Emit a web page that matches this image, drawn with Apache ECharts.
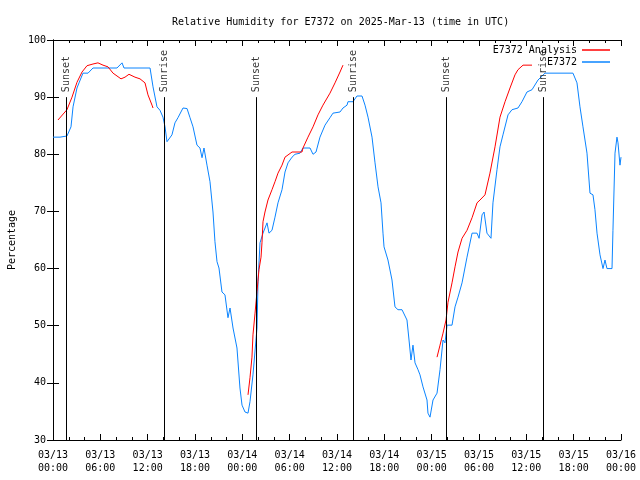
<!DOCTYPE html>
<html>
<head>
<meta charset="utf-8">
<script src="https://cdn.jsdelivr.net/npm/echarts@6.0.0/dist/echarts.min.js"></script>
<style>html,body{margin:0;padding:0;background:#fff;}#c{width:640px;height:480px;}</style>
</head>
<body>
<div id="c"></div>
<script>
// Hours since 03/13 00:00 UTC
var tickLabels = ['03/13\n00:00','03/13\n06:00','03/13\n12:00','03/13\n18:00','03/14\n00:00','03/14\n06:00','03/14\n12:00','03/14\n18:00','03/15\n00:00','03/15\n06:00','03/15\n12:00','03/15\n18:00','03/16\n00:00'];

var obsHours = [0,0.89,1.77,2.28,2.54,3.04,3.30,3.80,4.44,4.69,5.07,8.11,8.75,9.0,12.30,12.68,13.18,13.56,13.94,14.20,14.45,14.58,15.08,15.46,15.84,16.48,16.99,17.37,17.75,18.25,18.63,18.89,19.14,19.52,19.90,20.28,20.53,20.79,21.04,21.42,21.80,22.18,22.44,22.82,23.32,23.70,23.96,24.34,24.72,24.97,25.35,25.86,25.99,26.24,26.62,26.87,27.13,27.38,27.76,28.14,28.52,29.03,29.41,29.79,30.30,30.68,31.31,31.69,32.58,32.96,33.34,33.84,34.48,35.11,35.49,36.38,36.76,37.27,37.39,38.03,38.53,39.17,39.55,39.93,40.44,40.82,41.20,41.58,41.83,41.96,42.46,42.97,43.35,43.73,44.24,44.87,45.13,45.38,45.63,45.89,46.27,46.52,46.90,47.41,47.53,47.79,48.17,48.68,49.06,49.44,49.69,49.95,50.58,50.96,51.34,51.85,52.48,53.12,53.75,54.01,54.39,54.64,55.01,55.52,55.77,56.28,56.66,57.04,57.68,58.18,58.94,59.45,60.08,60.72,61.48,62.36,65.91,66.42,66.80,67.18,67.69,68.07,68.45,68.70,68.96,69.34,69.72,69.97,70.22,70.86,70.98,71.24,71.49,71.62,71.87,72.0];
var obsValues = [83.0,83.0,83.2,84.8,88.3,91.6,92.5,94.2,94.2,94.5,95.1,95.1,96.0,95.1,95.1,91.8,88.3,87.7,86.5,84.8,82.2,82.0,83.4,85.5,86.4,88.1,88.0,86.4,84.8,81.6,81.1,79.4,81.1,78.1,75.2,69.9,64.7,61.2,60.1,55.9,55.4,51.4,53.1,49.6,46.1,39.1,36.1,34.9,34.7,36.7,41.4,49.6,57.7,64.5,66.2,66.2,68.0,66.2,66.7,69.0,71.5,73.8,76.9,78.5,79.5,80.0,80.2,81.1,81.1,80.0,80.4,83.0,85.1,86.4,87.2,87.4,88.1,88.6,89.2,89.2,90.2,90.2,88.6,86.5,83.0,78.5,74.3,71.5,66.2,63.8,61.5,58.0,53.3,52.8,52.8,51.0,47.5,44.0,46.6,43.5,42.3,41.4,39.3,37.0,34.7,34.0,37.0,38.2,42.3,47.5,47.0,50.1,50.1,53.3,55.0,57.5,62.0,66.2,66.2,65.3,69.4,69.9,66.2,65.3,71.5,77.3,81.3,83.4,86.9,87.8,88.1,89.2,90.9,91.3,93.0,94.2,94.2,92.5,88.3,84.8,80.2,73.2,72.9,70.3,66.2,62.4,60.0,61.5,60.0,60.0,66.7,80.2,83.0,82.0,78.1,79.5];

var anaHours = [0.63,1.77,2.41,3.04,3.68,4.31,5.07,5.70,6.34,6.97,7.61,8.62,9.13,9.63,10.39,11.03,11.66,12.04,12.55,12.68,
  18.0,
  24.72,24.97,25.22,25.35,25.61,25.86,26.11,26.37,26.49,26.62,26.87,27.25,27.76,28.14,28.52,29.03,29.41,30.30,31.56,31.69,32.32,32.96,33.59,34.22,35.11,35.75,36.38,36.76,
  42.0,
  48.68,49.06,49.44,49.82,50.07,50.58,50.96,51.34,51.85,52.48,53.12,53.75,54.13,54.76,55.39,56.03,56.66,57.30,57.93,58.56,58.94,59.58,60.72];
var anaValues = [86.0,87.8,90.0,92.6,94.4,95.5,95.8,96.0,95.6,95.3,94.2,93.2,93.5,94.0,93.5,93.2,92.5,90.4,88.6,88.1,
  null,
  37.9,40.9,44.5,48.4,52.2,56.0,59.8,62.0,64.5,68.2,69.9,72.0,73.8,75.2,76.7,78.1,79.5,80.4,80.4,81.1,83.0,84.8,86.9,88.6,90.7,92.5,94.4,95.6,
  null,
  44.5,46.6,48.7,51.0,54.1,57.5,60.3,62.9,65.3,66.7,68.9,71.5,72.0,72.9,76.7,81.3,86.5,89.2,91.6,93.9,94.8,95.6,95.6];

var sunNames = ['Sunset','Sunrise','Sunset','Sunrise','Sunset','Sunrise'];
var sunHours = [1.65,14.07,25.73,38.03,49.82,62.12];
var sunLineTop = 90;

function zip(a, b) { return a.map(function (x, i) { return [x, b[i]]; }); }

var FONT = 'DejaVu Sans Mono';
var chart = echarts.init(document.getElementById('c'));
var sunLines = sunHours.map(function (h) { return [{ coord: [h, 30] }, { coord: [h, sunLineTop] }]; });
var sunLabels = sunHours.map(function (h, i) { return [h, sunLineTop, sunNames[i]]; });

var axisCommonX = {
  type: 'value', min: 0, max: 72, interval: 6,
  axisLine: { show: true, lineStyle: { color: '#000', width: 1 } },
  axisTick: { show: true, inside: true, length: 6, lineStyle: { color: '#000' } },
  minorTick: { show: true, splitNumber: 3, length: 3, lineStyle: { color: '#000' } },
  splitLine: { show: false }
};
var axisCommonY = {
  type: 'value', min: 30, max: 100, interval: 10,
  axisLine: { show: true, lineStyle: { color: '#000', width: 1 } },
  axisTick: { show: true, inside: true, length: 6, lineStyle: { color: '#000' } },
  splitLine: { show: false }
};
var legendCommon = {
  right: 30, orient: 'vertical', align: 'right', itemWidth: 28, itemHeight: 1.5, padding: 0, icon: 'rect',
  textStyle: { fontFamily: FONT, fontSize: 10, color: '#000', lineHeight: 12 }
};

chart.setOption({
  animation: false,
  backgroundColor: '#fff',
  title: {
    text: 'Relative Humidity for E7372 on 2025-Mar-13 (time in UTC)',
    left: 167, top: 12,
    textStyle: { fontFamily: FONT, fontSize: 10, fontWeight: 'normal', color: '#000' }
  },
  legend: [
    Object.assign({}, legendCommon, { data: ['E7372 Analysis'], top: 44 }),
    Object.assign({}, legendCommon, { data: ['E7372'], top: 56 })
  ],
  grid: { left: 53, right: 19, top: 40, bottom: 40, containLabel: false, outerBoundsMode: 'none' },
  xAxis: [
    Object.assign({}, axisCommonX, {
      position: 'bottom',
      axisLabel: { show: true, margin: 9, fontFamily: FONT, fontSize: 10, color: '#000', lineHeight: 13,
        formatter: function (v) { return tickLabels[Math.round(v / 6)]; } }
    }),
    Object.assign({}, axisCommonX, { position: 'top', axisLabel: { show: false } })
  ],
  yAxis: [
    Object.assign({}, axisCommonY, {
      position: 'left',
      name: 'Percentage', nameLocation: 'middle', nameGap: 36, nameRotate: 90,
      nameTextStyle: { fontFamily: FONT, fontSize: 10, color: '#000' },
      axisLabel: { show: true, margin: 7, fontFamily: FONT, fontSize: 10, color: '#000' }
    }),
    Object.assign({}, axisCommonY, { position: 'right', axisLabel: { show: false } })
  ],
  series: [
    {
      name: 'E7372 Analysis', type: 'line', data: zip(anaHours, anaValues),
      symbol: 'none', connectNulls: false, color: '#ff0000',
      itemStyle: { color: '#ff0000' },
      lineStyle: { color: '#ff0000', width: 1 }, z: 3
    },
    {
      name: 'E7372', type: 'line', data: zip(obsHours, obsValues),
      symbol: 'none', color: '#0a84ff',
      itemStyle: { color: '#0a84ff' },
      lineStyle: { color: '#0a84ff', width: 1 }, z: 2,
      markLine: {
        silent: true, symbol: ['none', 'none'],
        lineStyle: { color: '#000', width: 1, type: 'solid' },
        label: { show: false },
        data: sunLines
      }
    },
    {
      name: 'sun', type: 'scatter', symbolSize: 0, data: sunLabels, silent: true, z: 5,
      label: {
        show: true, position: 'top', distance: 5, rotate: 90, align: 'left', verticalAlign: 'middle',
        fontFamily: FONT, fontSize: 10, color: '#000',
        formatter: function (p) { return p.data[2]; }
      }
    }
  ]
});
</script>
</body>
</html>
